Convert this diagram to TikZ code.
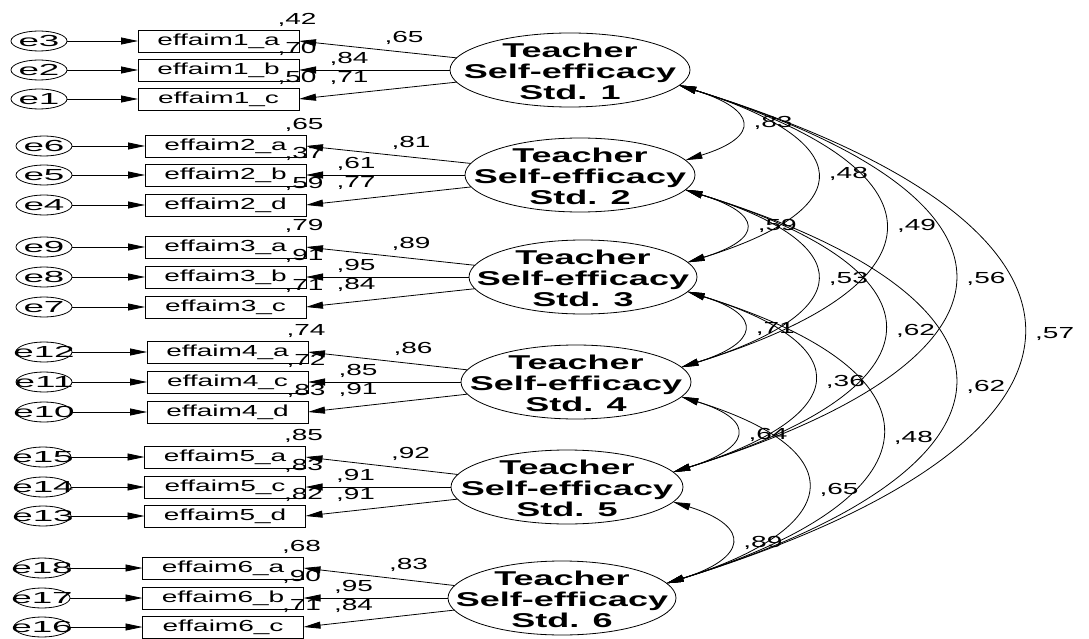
\documentclass[tikz,border=0pt]{standalone}
\usepackage{fontspec}
\usetikzlibrary{arrows.meta,shapes.geometric}
% Arial-metric faces, widened as in the path diagram output
\newfontfamily\obsfont[FakeStretch=1.75]{Liberation Sans}
\newfontfamily\errfont[FakeStretch=2.3]{Liberation Sans}
\newfontfamily\latfont[FakeStretch=1.8]{Liberation Sans}
\begin{document}
\begin{tikzpicture}[x=1pt,y=-1pt,
  every node/.style={inner sep=0pt,outer sep=0pt},
  line width=0.8pt,
  obs/.style={draw,rectangle,minimum width=161pt,minimum height=22pt,
    font=\obsfont\fontsize{16}{18}\selectfont},
  err/.style={draw,ellipse,minimum width=56pt,minimum height=20pt},
  errtext/.style={font=\errfont\fontsize{16}{18}\selectfont},
  lat/.style={draw,ellipse,minimum height=74pt},
  lattext/.style={align=center,font=\latfont\bfseries\fontsize{20}{21}\selectfont},
  num/.style={font=\obsfont\fontsize{16}{18}\selectfont},
  tip/.style={-{Triangle[length=17pt,width=7pt]}},
  cov/.style={{Triangle[length=17pt,width=7pt]}-{Triangle[length=17pt,width=7pt]}},
]
\fill[white] (0,0) rectangle (1089,639);
\useasboundingbox (0,0) rectangle (1089,639);

% measurement blocks: indicators, error terms, factor, loadings, R^2
\foreach \k/\bx/\ya/\yb/\yc/\ex/\ea/\eb/\ec/\na/\nb/\nc/\ra/\rb/\rc/\la/\lb/\lc/\fx/\fy/\fw in {
  1/218.5/41/70/99/39/3/2/1/a/b/c/{,42}/{,70}/{,50}/{,65}/{,84}/{,71}/570/70/240,
  2/225.5/146/175/205/44/6/5/4/a/b/d/{,65}/{,37}/{,59}/{,81}/{,61}/{,77}/580/175/230,
  3/225.5/247/277/307/44/9/8/7/a/b/c/{,79}/{,91}/{,71}/{,89}/{,95}/{,84}/583/277/228,
  4/227.5/352/382/412/44/12/11/10/a/c/d/{,74}/{,72}/{,83}/{,86}/{,85}/{,91}/576/382/230,
  5/225/457/487/516/43/15/14/13/a/c/d/{,85}/{,83}/{,82}/{,92}/{,91}/{,91}/567/487/232,
  6/223/568/598/627/42/18/17/16/a/b/c/{,68}/{,90}/{,71}/{,83}/{,95}/{,84}/562/598/228}{
  \pgfmathsetmacro\R{\bx+80.5}
  \node[obs] (oa\k) at (\bx,\ya) {effaim\k\_\na};
  \node[obs] (ob\k) at (\bx,\yb) {effaim\k\_\nb};
  \node[obs] (oc\k) at (\bx,\yc) {effaim\k\_\nc};
  \node[err] (ea\k) at (\ex,\ya) {};
  \node[err] (eb\k) at (\ex,\yb) {};
  \node[err] (ec\k) at (\ex,\yc) {};
  \node[errtext] (ta\k) at (ea\k) {e\ea};
  \node[errtext] (tb\k) at (eb\k) {e\eb};
  \node[errtext] (tc\k) at (ec\k) {e\ec};
  \draw[tip] (ea\k) -- (oa\k);
  \draw[tip] (eb\k) -- (ob\k);
  \draw[tip] (ec\k) -- (oc\k);
  \node[lat,minimum width=\fw pt] (F\k) at (\fx,\fy) {};
  \node[lattext] (tF\k) at (\fx,\fy+1) {Teacher\\Self-efficacy\\Std. \k};
  \draw[tip] (F\k) -- (oa\k.east);
  \draw[tip] (F\k) -- (ob\k.east);
  \draw[tip] (F\k) -- (oc\k.east);
  \node[num] (ra\k) at (\R-2,\ya-21) {\ra};
  \node[num] (rb\k) at (\R-2,\yb-21) {\rb};
  \node[num] (rc\k) at (\R-2,\yc-21) {\rc};
  \node[num] (la\k) at (\R+105,\ya-3) {\la};
  \node[num] (lb\k) at (\R+50,\yb-11) {\lb};
  \node[num] (lc\k) at (\R+50,\yb+8) {\lc};
}

% factor covariances
\foreach \i/\j/\v/\h in {1/2/{,83}/77, 1/3/{,48}/176, 1/4/{,49}/271, 1/5/{,56}/369,
  1/6/{,57}/465, 2/3/{,59}/77, 2/4/{,53}/176, 2/5/{,62}/271, 2/6/{,62}/369,
  3/4/{,71}/77, 3/5/{,36}/176, 3/6/{,48}/271, 4/5/{,64}/77, 4/6/{,65}/176,
  5/6/{,89}/80}{
  \pgfmathsetmacro\dd{0.31*\h}
  \draw[cov] (F\i.-8) .. controls +(\h,\dd) and +(\h,-\dd) .. (F\j.8)
    node[num,pos=0.5,xshift=33pt] (c\i\j) {\v};
}
\end{tikzpicture}
\end{document}
